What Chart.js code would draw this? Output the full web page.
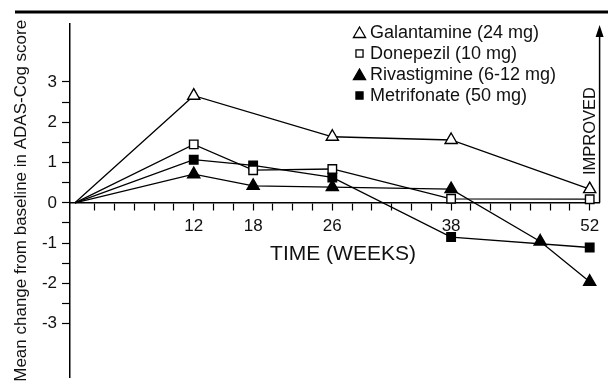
<!DOCTYPE html>
<html>
<head>
<meta charset="utf-8">
<script src="https://cdn.jsdelivr.net/npm/chart.js@4.4.1/dist/chart.umd.min.js"></script>
<style>
  html, body { margin: 0; padding: 0; background: #fff; }
</style>
</head>
<body>
<canvas id="chart" width="608" height="386"></canvas>
<script>
// weeks and mean change from baseline for each drug
const galWeeks = [0, 12, 26, 38, 52];
const galValues = [0, 2.66, 1.64, 1.56, 0.34];

const donWeeks = [0, 12, 18, 26, 38, 52];
const donValues = [0, 1.45, 0.81, 0.84, 0.10, 0.09];

const rivWeeks = [0, 12, 18, 26, 38, 47, 52];
const rivValues = [0, 0.71, 0.42, 0.39, 0.34, -0.96, -1.96];

const metWeeks = [0, 12, 18, 26, 38, 52];
const metValues = [0, 1.07, 0.93, 0.63, -0.85, -1.11];

const seriesNames = ['Galantamine (24 mg)', 'Donepezil (10 mg)', 'Rivastigmine (6-12 mg)', 'Metrifonate (50 mg)'];

const xTickMarks = [2, 4, 6, 8, 10, 12, 14, 16, 18, 20, 22, 24, 26, 28, 30, 32, 34, 36, 38, 40, 42, 44, 46, 48, 50, 52];
const xTickLabels = [12, 18, 26, 38, 52];
const yTickMarks = [-3, -2.5, -2, -1.5, -1, -0.5, 0, 0.5, 1, 1.5, 2, 2.5, 3];
const yTickLabels = [-3, -2, -1, 0, 1, 2, 3];

const FONT = "'Liberation Sans', Arial, Helvetica, sans-serif";
Chart.defaults.font.family = FONT;
Chart.defaults.color = '#111';

function toPoints(weeks, values) {
    return weeks.map((w, i) => ({ x: w, y: values[i] }));
}

function makeSeries(label, weeks, values, style, filled) {
    const r = style === 'triangle' ? 7 : 6;
    return {
        label: label,
        data: toPoints(weeks, values),
        borderColor: '#000',
        borderWidth: 1.3,
        tension: 0,
        pointStyle: style,
        pointRadius: ctx => ctx.dataIndex === 0 ? 0 : r,
        pointBackgroundColor: filled ? '#000' : '#fff',
        pointBorderColor: '#000',
        pointBorderWidth: 1.4
    };
}

const datasets = [
    makeSeries(seriesNames[0], galWeeks, galValues, 'triangle', false),
    makeSeries(seriesNames[1], donWeeks, donValues, 'rect', false),
    makeSeries(seriesNames[2], rivWeeks, rivValues, 'triangle', true),
    makeSeries(seriesNames[3], metWeeks, metValues, 'rect', true)
];

// extra drawing: top rule, legend, x title, IMPROVED arrow
const decorations = {
    id: 'decorations',
    afterDraw(chart) {
        const ctx = chart.ctx;
        const area = chart.chartArea;
        const zeroY = chart.scales.y.getPixelForValue(0);
        ctx.save();

        // heavy rule across the top
        ctx.strokeStyle = '#000';
        ctx.lineWidth = 3;
        ctx.beginPath();
        ctx.moveTo(15, 12);
        ctx.lineTo(608, 12);
        ctx.stroke();

        // x axis title under the axis
        ctx.fillStyle = '#111';
        ctx.font = '21px ' + FONT;
        ctx.textAlign = 'center';
        ctx.textBaseline = 'alphabetic';
        ctx.fillText('TIME (WEEKS)', 343, zeroY + 57);

        // improved arrow on the right
        const ax = area.right;
        ctx.lineWidth = 1.5;
        ctx.beginPath();
        ctx.moveTo(ax, zeroY);
        ctx.lineTo(ax, 34);
        ctx.stroke();
        ctx.fillStyle = '#000';
        ctx.beginPath();
        ctx.moveTo(ax, 25);
        ctx.lineTo(ax - 4, 37);
        ctx.lineTo(ax + 4, 37);
        ctx.closePath();
        ctx.fill();

        ctx.save();
        ctx.translate(595, 131);
        ctx.rotate(-Math.PI / 2);
        ctx.fillStyle = '#111';
        ctx.font = '16.5px ' + FONT;
        ctx.textAlign = 'center';
        ctx.textBaseline = 'alphabetic';
        ctx.fillText('IMPROVED', 0, 0);
        ctx.restore();

        // legend
        const rowY = [32.5, 53.5, 74.5, 95.5];
        ctx.font = '18px ' + FONT;
        ctx.textAlign = 'left';
        ctx.textBaseline = 'middle';
        chart.data.datasets.forEach((ds, i) => {
            const isTri = ds.pointStyle === 'triangle';
            const r = isTri ? 7 : 5;
            ctx.fillStyle = ds.pointBackgroundColor;
            ctx.strokeStyle = '#000';
            ctx.lineWidth = 1.3;
            Chart.helpers.drawPoint(ctx, { pointStyle: ds.pointStyle, radius: r, rotation: 0, borderWidth: 1.3 },
                359.5, rowY[i] + (isTri ? 1.5 : 0));
            ctx.fillStyle = '#111';
            ctx.fillText(ds.label, 370, rowY[i] + 1);
        });

        ctx.restore();
    }
};

new Chart(document.getElementById('chart'), {
    type: 'line',
    data: { datasets: datasets },
    options: {
        responsive: false,
        animation: false,
        layout: { padding: { top: 24, right: 2, bottom: 2, left: 0 } },
        plugins: {
            legend: { display: false },
            tooltip: { enabled: false }
        },
        scales: {
            x: {
                type: 'linear',
                min: -0.5,
                max: 53,
                position: { y: 0 },
                afterBuildTicks: s => { s.ticks = xTickMarks.map(v => ({ value: v })); },
                afterFit: s => { s.paddingLeft = 0; s.paddingRight = 0; },
                grid: { drawOnChartArea: false, tickLength: 7, color: '#000', tickWidth: 1.2 },
                border: { display: true, color: '#000', width: 1.5 },
                ticks: {
                    autoSkip: false,
                    maxRotation: 0,
                    padding: 6,
                    color: '#111',
                    font: { size: 17 },
                    callback: v => xTickLabels.includes(v) ? String(v) : ''
                }
            },
            y: {
                type: 'linear',
                min: -4.34,
                max: 4.44,
                afterBuildTicks: s => { s.ticks = yTickMarks.map(v => ({ value: v })); },
                afterFit: s => { s.width = 70; s.paddingTop = 0; s.paddingBottom = 0; },
                grid: { drawOnChartArea: false, tickLength: 8, color: '#000', tickWidth: 1.2 },
                border: { display: true, color: '#000', width: 1.5 },
                ticks: {
                    padding: 5,
                    color: '#111',
                    font: { size: 17 },
                    callback: v => yTickLabels.includes(v) ? String(v) : ''
                },
                title: {
                    display: true,
                    text: 'Mean change from baseline in ADAS-Cog score',
                    color: '#111',
                    font: { size: 17 },
                    padding: { top: 11, bottom: 0 }
                }
            }
        }
    },
    plugins: [decorations]
});
</script>
</body>
</html>
